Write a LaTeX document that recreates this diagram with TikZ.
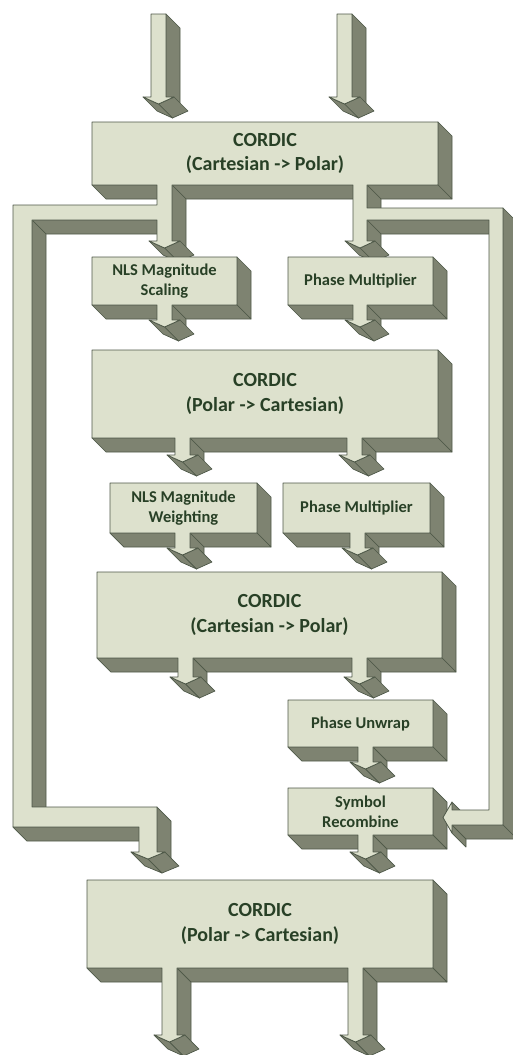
\documentclass[tikz,border=0pt]{standalone}
\usepackage{fontspec}
\setmainfont{Carlito}
\definecolor{facelight}{RGB}{221,225,205}
\definecolor{faceside}{RGB}{126,131,113}
\definecolor{edgeline}{RGB}{78,88,72}
\definecolor{labeltext}{RGB}{40,64,38}
\newcommand\dd{14}
% Extruded flat shape: #1,#2 = first corner, #3 = remaining corners x/y
% (clockwise on screen, ending again at the first corner).
% Side faces turned towards the viewer are filled first, then the front face.
\newcommand\solidpoly[3]{%
  \foreach \x/\y [remember=\x as \px (initially #1), remember=\y as \py (initially #2)] in {#3}{%
    \pgfmathtruncatemacro\vis{((\y-\py)-(\x-\px))>0.01}%
    \ifnum\vis=1
      \filldraw[sideface] (\px,\py) -- (\x,\y) -- (\x+\dd,\y+\dd) -- (\px+\dd,\py+\dd) -- cycle;
    \fi
  }%
  \filldraw[frontface] (#1,#2) \foreach \x/\y in {#3}{ -- (\x,\y)} -- cycle;
}
\begin{document}
\begin{tikzpicture}[x=1pt,y=-1pt,
  sideface/.style={fill=faceside,draw=edgeline,line width=0.7pt,line join=round},
  frontface/.style={fill=facelight,draw=edgeline,line width=0.8pt,line join=round},
  biglabel/.style={text=labeltext,align=center,font=\fontsize{20}{24.5}\selectfont\bfseries},
  smalllabel/.style={text=labeltext,align=center,font=\fontsize{16.5}{20}\selectfont\bfseries}]
\useasboundingbox (0,0) rectangle (512,1055);

% incoming arrows
\solidpoly{151}{14}{166/14, 166/97, 174/97, 158.5/104, 143/97, 151/97, 151/14}
\solidpoly{337}{14}{352/14, 352/97, 360/97, 344.5/104, 329/97, 337/97, 337/14}

% Symbol Recombine block (drawn before the feedback path that points into it)
\solidpoly{288}{788}{433/788, 433/835, 373/835, 373/852, 381/852, 365.5/859, 350/852, 358/852, 358/835, 288/835, 288/788}
\node[smalllabel] (symb) at (360.5,811.5) {Symbol\\Recombine};

% first CORDIC with its two outputs and both bypass paths
\solidpoly{92}{122}{438/122, 438/185, 367/185, 367/208, 503/208, 503/825, 452/825, 452/833, 443/817.5, 452/802, 452/810, 489/810, 489/220, 367/220, 367/241, 375/241, 360/248, 345/241, 353/241, 353/185, 172/185, 172/241, 180/241, 164.5/248, 149/241, 157/241, 157/220, 32/220, 32/807, 157/807, 157/852, 165/852, 148/859, 131/852, 139/852, 139/827, 13/827, 13/205, 157/205, 157/185, 92/185, 92/122}
\node[biglabel] (cordicA) at (265,153.5) {CORDIC\\(Cartesian -> Polar)};

% NLS Magnitude Scaling
\solidpoly{92}{257}{237/257, 237/305, 172/305, 172/320, 180/320, 164.5/327, 149/320, 157/320, 157/305, 92/305, 92/257}
\node[smalllabel] (nlsA) at (164.5,281) {NLS Magnitude\\Scaling};

% Phase Multiplier
\solidpoly{288}{257}{433/257, 433/305, 367/305, 367/320, 375/320, 360/327, 345/320, 353/320, 353/305, 288/305, 288/257}
\node[smalllabel] (phA) at (360.5,281) {Phase Multiplier};

% CORDIC polar to cartesian
\solidpoly{92}{350}{438/350, 438/438, 362/438, 362/455, 370/455, 354.5/462, 339/455, 347/455, 347/438, 190/438, 190/455, 198/455, 182.5/462, 167/455, 175/455, 175/438, 92/438, 92/350}
\node[biglabel] (cordicB) at (265,394) {CORDIC\\(Polar -> Cartesian)};

% NLS Magnitude Weighting
\solidpoly{110}{483}{257/483, 257/533, 190/533, 190/548, 198/548, 182.5/555, 167/548, 175/548, 175/533, 110/533, 110/483}
\node[smalllabel] (nlsB) at (183.5,508) {NLS Magnitude\\Weighting};

% Phase Multiplier
\solidpoly{283}{483}{430/483, 430/533, 365/533, 365/548, 373/548, 357.5/555, 342/548, 350/548, 350/533, 283/533, 283/483}
\node[smalllabel] (phB) at (356.5,508) {Phase Multiplier};

% CORDIC cartesian to polar
\solidpoly{97}{572}{442/572, 442/658, 367/658, 367/677, 375/677, 359.5/684, 344/677, 352/677, 352/658, 193/658, 193/677, 201/677, 185.5/684, 170/677, 178/677, 178/658, 97/658, 97/572}
\node[biglabel] (cordicC) at (269.5,615) {CORDIC\\(Cartesian -> Polar)};

% Phase Unwrap
\solidpoly{288}{700}{433/700, 433/747, 373/747, 373/762, 381/762, 365.5/769, 350/762, 358/762, 358/747, 288/747, 288/700}
\node[smalllabel] (unwrap) at (360.5,723.5) {Phase Unwrap};

% final CORDIC polar to cartesian
\solidpoly{87}{880}{433/880, 433/968, 363/968, 363/1035, 371/1035, 355.5/1042, 340/1035, 348/1035, 348/968, 177/968, 177/1035, 185/1035, 169.5/1042, 154/1035, 162/1035, 162/968, 87/968, 87/880}
\node[biglabel] (cordicD) at (260,924) {CORDIC\\(Polar -> Cartesian)};
\end{tikzpicture}
\end{document}
